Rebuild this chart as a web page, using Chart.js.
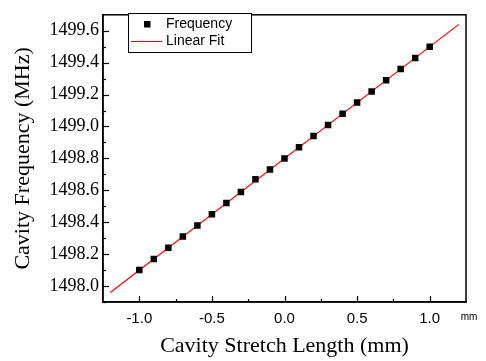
<!DOCTYPE html>
<html>
<head>
<meta charset="utf-8">
<script src="https://cdn.jsdelivr.net/npm/chart.js@4/dist/chart.umd.min.js"></script>
<style>
  body { margin: 0; background: #fff; }
</style>
</head>
<body>
<canvas id="myChart" width="486" height="361"></canvas>
<script>
// stretch length (mm) and measured cavity frequency (MHz)
var stretch = [-1.0, -0.9, -0.8, -0.7, -0.6, -0.5, -0.4, -0.3, -0.2, -0.1, 0.0,
               0.1, 0.2, 0.3, 0.4, 0.5, 0.6, 0.7, 0.8, 0.9, 1.0];
var freq = [1498.10, 1498.17, 1498.24, 1498.31, 1498.38, 1498.45, 1498.52, 1498.59, 1498.67, 1498.73, 1498.80,
            1498.87, 1498.94, 1499.01, 1499.08, 1499.15, 1499.22, 1499.29, 1499.36, 1499.43, 1499.50];

// linear fit end points
var fitX = [-1.2, 1.2];
var fitY = [1497.96, 1499.64];

var xTicks = [-1.0, -0.5, 0.0, 0.5, 1.0];
var yTicks = [1498.0, 1498.2, 1498.4, 1498.6, 1498.8, 1499.0, 1499.2, 1499.4, 1499.6];

var points = stretch.map((x, i) => ({x: x, y: freq[i]}));
var fitLine = fitX.map((x, i) => ({x: x, y: fitY[i]}));

// inward ticks, frame, legend box and "mm" unit
var decorPlugin = {
    id: 'decor',
    afterDraw(chart) {
        const ctx = chart.ctx;
        const a = chart.chartArea;
        const xs = chart.scales.x;
        const ys = chart.scales.y;
        ctx.save();
        ctx.strokeStyle = '#000';
        ctx.lineWidth = 1.2;

        // x ticks (major 0.5, minor 0.25)
        for (var v = -1.0; v <= 1.001; v += 0.25) {
            var px = Math.round(xs.getPixelForValue(v)) + 0.5;
            var major = Math.abs(v * 2 - Math.round(v * 2)) < 1e-6;
            var len = major ? 6 : 3;
            ctx.beginPath();
            ctx.moveTo(px, a.bottom);
            ctx.lineTo(px, a.bottom - len);
            ctx.stroke();
        }
        // y ticks (major 0.2, minor 0.1)
        for (var k = 0; k <= 17; k++) {
            var val = 1497.9 + k * 0.1;
            var py = Math.round(ys.getPixelForValue(val)) + 0.5;
            var len2 = (k % 2 == 1) ? 6 : 3;
            ctx.beginPath();
            ctx.moveTo(a.left, py);
            ctx.lineTo(a.left + len2, py);
            ctx.stroke();
        }

        // frame
        ctx.lineWidth = 1.5;
        ctx.strokeRect(a.left, a.top, a.right - a.left, a.bottom - a.top);

        // legend
        ctx.lineWidth = 1;
        ctx.fillStyle = '#fff';
        ctx.fillRect(128.5, 13.5, 123, 39);
        ctx.strokeRect(128.5, 13.5, 123, 39);
        ctx.fillStyle = '#000';
        ctx.fillRect(144, 21, 6.5, 6.5);
        ctx.strokeStyle = '#e00000';
        ctx.beginPath();
        ctx.moveTo(131, 41.5);
        ctx.lineTo(162, 41.5);
        ctx.stroke();
        ctx.fillStyle = '#000';
        ctx.font = '14px "Liberation Sans", Arial, sans-serif';
        ctx.textBaseline = 'middle';
        ctx.textAlign = 'left';
        ctx.fillText('Frequency', 166, 24.5);
        ctx.fillText('Linear Fit', 166, 41.5);

        // unit at end of x axis
        ctx.font = '10px "Liberation Sans", Arial, sans-serif';
        ctx.textAlign = 'center';
        ctx.fillText('mm', 469, 317);
        ctx.restore();
    }
};

const ctx = document.getElementById('myChart').getContext('2d');

const myChart = new Chart(ctx, {
    type: 'scatter',
    data: {
        datasets: [{
            label: 'Frequency',
            data: points,
            pointStyle: 'rect',
            pointRadius: 4.6,
            pointHoverRadius: 4.6,
            backgroundColor: '#000',
            borderColor: '#000',
            borderWidth: 0,
            order: 1
        }, {
            label: 'Linear Fit',
            type: 'line',
            data: fitLine,
            borderColor: '#ff0000',
            borderWidth: 1.2,
            pointRadius: 0,
            fill: false,
            order: 2
        }]
    },
    options: {
        responsive: false,
        animation: false,
        layout: {
            padding: {top: 8, right: 20, left: 0, bottom: 0}
        },
        plugins: {
            legend: { display: false },
            tooltip: { enabled: false }
        },
        scales: {
            x: {
                type: 'linear',
                min: -1.25,
                max: 1.25,
                afterBuildTicks: (s) => { s.ticks = xTicks.map(v => ({value: v})); },
                afterFit: (s) => { s.height = 59; },
                grid: { display: false, drawTicks: false },
                border: { display: true, color: '#000', width: 1.5 },
                ticks: {
                    color: '#000',
                    padding: 8,
                    maxRotation: 0,
                    font: { size: 15, family: '"Liberation Sans", Arial, sans-serif' },
                    callback: (v) => Number(v).toFixed(1)
                },
                title: {
                    display: true,
                    text: 'Cavity Stretch Length (mm)',
                    color: '#000',
                    padding: {top: 0, bottom: 2},
                    font: { size: 22, family: '"Liberation Serif", "Times New Roman", serif' }
                }
            },
            y: {
                type: 'linear',
                min: 1497.9,
                max: 1499.7,
                afterBuildTicks: (s) => { s.ticks = yTicks.map(v => ({value: v})); },
                afterFit: (s) => { s.width = 103; },
                grid: { display: false, drawTicks: false },
                border: { display: true, color: '#000', width: 1.5 },
                ticks: {
                    color: '#000',
                    padding: 4,
                    font: { size: 18, family: '"Liberation Serif", "Times New Roman", serif' },
                    callback: (v) => Number(v).toFixed(1)
                },
                title: {
                    display: true,
                    text: 'Cavity Frequency (MHz)',
                    color: '#000',
                    padding: {top: 10, bottom: 0},
                    font: { size: 22, family: '"Liberation Serif", "Times New Roman", serif' }
                }
            }
        }
    },
    plugins: [decorPlugin]
});
</script>
</body>
</html>
